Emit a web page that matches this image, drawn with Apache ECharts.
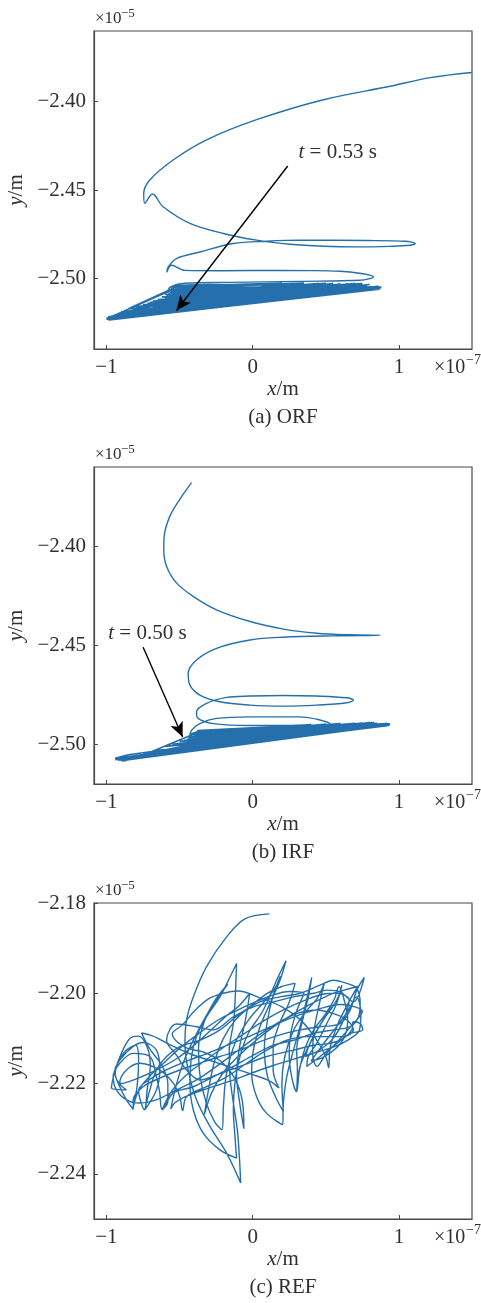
<!DOCTYPE html>
<html>
<head>
<meta charset="utf-8">
<script src="https://cdn.jsdelivr.net/npm/echarts@6/dist/echarts.min.js"></script>
<style>html,body{margin:0;padding:0;background:#fff}#c{width:481px;height:1303px}</style>
</head>
<body>
<div id="c"></div>
<script>
// ---- data (x in units of 1e-7 m, y in units of 1e-5 m) ----
const xTicks = [-1, 0, 1];
const orfYTicks = [-2.40, -2.45, -2.50];
const irfYTicks = [-2.40, -2.45, -2.50];
const refYTicks = [-2.18, -2.20, -2.22, -2.24];

// ORF: spiral part of the trajectory
const orfPath = [
[1.50,-2.3835],[1.214,-2.3864],[0.940,-2.3913],[0.484,-2.3989],[0.027,-2.4102],[-0.315,-2.4216],[-0.544,-2.4330],[-0.703,-2.4443],[-0.745,-2.4519],[-0.738,-2.4576],[-0.685,-2.4523],[-0.612,-2.4595],[-0.429,-2.4689],[-0.201,-2.4746],[0.027,-2.4784],[0.255,-2.4807],[0.484,-2.4818],[0.712,-2.4822],[0.940,-2.4819],[1.077,-2.4813],[1.112,-2.4803],[1.043,-2.4790],[0.781,-2.4786],[0.324,-2.4784],[0.096,-2.4790],[-0.133,-2.4803],[-0.361,-2.4851],[-0.521,-2.4888],[-0.578,-2.4936],[-0.587,-2.4966],[-0.555,-2.4926],[-0.464,-2.4955],[-0.224,-2.4957],[0.187,-2.4955],[0.598,-2.4960],[0.826,-2.4992],[0.735,-2.5011],[0.324,-2.5017],[-0.155,-2.5023],[-0.464,-2.5028],[-0.566,-2.5051],[-0.580,-2.5080],[-0.532,-2.5045],
[-0.50,-2.5040],[-0.30,-2.5035],[0.10,-2.5038],[0.50,-2.5045],[0.65,-2.5050],[0.40,-2.5060],[-0.20,-2.5058],[-0.52,-2.5062],[-0.585,-2.5100],[-0.55,-2.5070]
];
// ORF: dense settled band
const orfBand = [
[-0.55,-2.5070],[-0.55,-2.5060],[0.86,-2.5048],[-0.99,-2.5228],[0.88,-2.5055],[-0.60,-2.5110],[0.70,-2.5030],[-0.97,-2.5215],[0.87,-2.5058],[-0.56,-2.5080],[0.50,-2.5028],[-1.00,-2.5232],[0.85,-2.5052],[-0.80,-2.5160],[0.80,-2.5035],[-0.95,-2.5225],[0.88,-2.5050],[-0.54,-2.5050],[0.35,-2.5027],[-0.90,-2.5200],[0.86,-2.5060],[-0.70,-2.5135],[0.65,-2.5032],[-0.98,-2.5236],[0.84,-2.5062],[-0.57,-2.5095],[0.75,-2.5030],[-0.93,-2.5210],[0.88,-2.5053],[-0.65,-2.5120],[0.55,-2.5030],[-1.00,-2.5225],[0.87,-2.5061],[-0.53,-2.5045],[0.20,-2.5027],[-0.85,-2.5185],[0.86,-2.5045],[-0.96,-2.5230],[0.80,-2.5062],[-0.58,-2.5070],[0.60,-2.5035],[-0.75,-2.5150],[0.88,-2.5056],[-0.99,-2.5218],[0.83,-2.5060],[-0.56,-2.5085],[0.45,-2.5030],[-0.92,-2.5222],[0.87,-2.5052],[-0.62,-2.5105],[0.72,-2.5038],[-0.97,-2.5233],[0.85,-2.5063],[-0.88,-2.5195],[0.78,-2.5040],[-0.55,-2.5065],
[-0.99,-2.5226],[0.60,-2.5040],[-0.68,-2.5128],[0.88,-2.5054],[-0.94,-2.5208],[0.40,-2.5035],[-0.59,-2.5100],[0.86,-2.5058],[-1.00,-2.5230],[0.70,-2.5045],[-0.82,-2.5170],[0.84,-2.5050],[-0.56,-2.5055],[0.25,-2.5030],[-0.97,-2.5222],[0.87,-2.5057],[-0.72,-2.5142],[0.66,-2.5040],[-0.95,-2.5218],[0.82,-2.5048],[-0.60,-2.5090],[0.88,-2.5058],[-0.99,-2.5234],[0.76,-2.5055],[-0.54,-2.5055],
[-0.85,-2.5172],[0.86,-2.5050],[-0.82,-2.5215],[0.70,-2.5045],[-0.78,-2.5160],[0.88,-2.5057],[-0.88,-2.5225],[0.60,-2.5033],[-0.75,-2.5205],[0.85,-2.5058],[-0.90,-2.5190],[0.78,-2.5048],[-0.70,-2.5195],[0.88,-2.5056],[-0.95,-2.5212],[0.50,-2.5038],[-0.65,-2.5185],[0.86,-2.5060]
];

// IRF: spiral part
const irfPath = [
[-0.418,-2.3679],[-0.498,-2.3763],[-0.566,-2.3848],[-0.605,-2.3949],[-0.608,-2.4017],[-0.589,-2.4101],[-0.521,-2.4185],[-0.407,-2.4253],[-0.247,-2.4321],[-0.018,-2.4380],[0.210,-2.4418],[0.438,-2.4439],[0.666,-2.4447],[0.872,-2.4449],[0.552,-2.4452],[0.210,-2.4459],[-0.018,-2.4473],[-0.247,-2.4515],[-0.384,-2.4574],[-0.441,-2.4641],[-0.429,-2.4701],[-0.361,-2.4751],[-0.224,-2.4785],[-0.018,-2.4802],[0.210,-2.4807],[0.438,-2.4802],[0.644,-2.4790],[0.689,-2.4777],[0.644,-2.4765],[0.438,-2.4756],[0.210,-2.4753],[-0.018,-2.4756],[-0.178,-2.4763],[-0.315,-2.4793],[-0.384,-2.4836],[-0.373,-2.4869],[-0.270,-2.4895],[-0.018,-2.4905],[0.324,-2.4905],[0.529,-2.4896],[0.324,-2.4861],[-0.018,-2.4861],[-0.247,-2.4869],[-0.361,-2.4895],[-0.418,-2.4929],[-0.43,-2.4962],[-0.40,-2.4978],[-0.25,-2.4975],[-0.10,-2.4962],[-0.18,-2.4938],[-0.36,-2.4935],[-0.425,-2.4955],[-0.38,-2.4980],[-0.20,-2.4985],[0.00,-2.4970],[-0.15,-2.4945],[-0.40,-2.4945]
];
// IRF: dense settled band
const irfBand = [
[-0.40,-2.4945],[-0.40,-2.4940],[0.92,-2.4895],[-0.90,-2.5075],[0.94,-2.4900],[-0.42,-2.4960],[0.70,-2.4893],[-0.93,-2.5072],[0.90,-2.4905],[-0.45,-2.4975],[0.50,-2.4898],[-0.85,-2.5065],[0.93,-2.4896],[-0.38,-2.4930],[0.30,-2.4905],[-0.92,-2.5080],[0.88,-2.4908],[-0.60,-2.5010],[0.80,-2.4890],[-0.94,-2.5075],[0.92,-2.4903],[-0.40,-2.4950],[0.60,-2.4895],[-0.75,-2.5045],[0.94,-2.4898],[-0.36,-2.4935],[0.10,-2.4912],[-0.90,-2.5082],[0.86,-2.4910],[-0.50,-2.4985],[0.75,-2.4892],[-0.93,-2.5070],[0.91,-2.4900],[-0.42,-2.4945],[0.40,-2.4900],[-0.80,-2.5060],[0.93,-2.4905],[-0.38,-2.4955],
[-0.44,-2.4965],[0.85,-2.4893],[-0.91,-2.5078],[0.94,-2.4902],[-0.55,-2.5000],[0.65,-2.4897],[-0.93,-2.5076],[0.90,-2.4900],[-0.38,-2.4940],[0.20,-2.4908],[-0.88,-2.5070],[0.92,-2.4906],[-0.47,-2.4980],[0.83,-2.4890],[-0.94,-2.5078],[0.45,-2.4902],[-0.41,-2.4950],
[-0.75,-2.5055],[0.90,-2.4902],[-0.65,-2.5030],[0.94,-2.4900],[-0.80,-2.5068],[0.70,-2.4895],
[-0.85,-2.5052],[-0.94,-2.5070],[-0.88,-2.5084],[-0.80,-2.5066]
];

// REF: tangled trajectory
const refPath = [
[0.114,-2.1824],[-0.053,-2.1835],[-0.178,-2.1875],[-0.315,-2.1941],[-0.406,-2.2008],[-0.452,-2.2059],[-0.463,-2.2111],[-0.441,-2.2170],[-0.384,-2.2236],[-0.292,-2.2295],[-0.178,-2.2354],[-0.082,-2.2420],
[-0.091,-2.2361],[-0.105,-2.2302],[-0.132,-2.2243],[-0.155,-2.2185],[-0.160,-2.2126],[-0.132,-2.2067],[-0.121,-2.2022],[-0.110,-2.1934],
[-0.155,-2.1964],[-0.224,-2.2008],[-0.315,-2.2052],[-0.384,-2.2096],[-0.418,-2.2140],[-0.429,-2.2199],[-0.406,-2.2258],[-0.338,-2.2310],[-0.224,-2.2347],[-0.110,-2.2365],
[-0.121,-2.2317],[-0.132,-2.2258],[-0.121,-2.2199],[-0.087,-2.2140],[-0.030,-2.2089],[0.073,-2.2037],[0.164,-2.1971],[0.228,-2.1928],
[0.187,-2.1971],[0.119,-2.2022],[0.050,-2.2074],[0.005,-2.2126],[-0.007,-2.2177],[0.027,-2.2229],[0.096,-2.2266],[0.205,-2.2291],
[0.210,-2.2243],[0.233,-2.2185],[0.279,-2.2126],[0.336,-2.2059],[0.404,-2.1965],[0.381,-2.2008],[0.336,-2.2067],[0.301,-2.2126],[0.306,-2.2170],[0.301,-2.2218],
[0.324,-2.2162],[0.393,-2.2111],[0.484,-2.2059],[0.575,-2.2015],[0.610,-2.1982],[0.575,-2.2022],[0.507,-2.2067],[0.438,-2.2111],[0.381,-2.2140],[0.370,-2.2162],
[0.461,-2.2140],[0.575,-2.2111],[0.667,-2.2089],[0.753,-2.2081],[0.735,-2.2067],[0.689,-2.2063],[0.678,-2.2081],[0.621,-2.2100],[0.530,-2.2111],[0.416,-2.2115],[0.279,-2.2126],[0.096,-2.2140],[-0.087,-2.2162],[-0.247,-2.2181],[-0.361,-2.2192],[-0.452,-2.2170],[-0.521,-2.2137],[-0.589,-2.2104],[-0.521,-2.2068],[-0.384,-2.2074],[-0.269,-2.2081],[-0.132,-2.2052],[0.005,-2.2030],[0.142,-2.2019],[0.279,-2.2008],[0.416,-2.2000],[0.507,-2.1993],[0.598,-2.1997],[0.689,-2.2019],[0.763,-2.1965],[0.712,-2.1993],[0.667,-2.2037],[0.598,-2.2067],[0.461,-2.2074],[0.324,-2.2081],[0.187,-2.2092],[0.050,-2.2107],[-0.087,-2.2126],[-0.224,-2.2140],[-0.361,-2.2155],[-0.498,-2.2170],[-0.635,-2.2188],[-0.749,-2.2207],[-0.817,-2.2236],[-0.817,-2.2257],
[-0.863,-2.2236],[-0.909,-2.2207],[-0.943,-2.2173],[-0.909,-2.2148],[-0.817,-2.2118],[-0.749,-2.2109],[-0.658,-2.2126],[-0.635,-2.2170],[-0.658,-2.2214],[-0.737,-2.2258],[-0.703,-2.2214],[-0.658,-2.2170],[-0.589,-2.2140],[-0.498,-2.2118],[-0.361,-2.2104],[-0.224,-2.2081],[-0.087,-2.2045],[0.050,-2.2019],[0.187,-2.2008],[0.324,-2.2000],[0.461,-2.1982],[0.553,-2.1971],[0.644,-2.1978],[0.712,-2.1989],[0.735,-2.2022],[0.724,-2.2052],[0.667,-2.2074],[0.553,-2.2081],[0.416,-2.2089],[0.279,-2.2104],[0.142,-2.2115],[0.005,-2.2137],[-0.132,-2.2162],[-0.269,-2.2185],[-0.406,-2.2207],[-0.543,-2.2221],[-0.619,-2.2258],
[-0.635,-2.2221],[-0.658,-2.2185],[-0.703,-2.2140],[-0.817,-2.2133],[-0.909,-2.2155],[-0.954,-2.2185],[-0.932,-2.2214],[-0.863,-2.2236],[-0.772,-2.2243],[-0.658,-2.2236],[-0.521,-2.2214],[-0.384,-2.2192],[-0.247,-2.2162],[-0.110,-2.2129],[0.027,-2.2096],[0.164,-2.2067],[0.301,-2.2045],[0.438,-2.2037],[0.553,-2.2045],[0.644,-2.2059],[0.689,-2.2081],[0.621,-2.2096],[0.507,-2.2096],[0.370,-2.2096],[0.233,-2.2104],[0.096,-2.2126],[-0.041,-2.2155],[-0.178,-2.2185],[-0.315,-2.2207],[-0.452,-2.2229],[-0.479,-2.2260],
[-0.498,-2.2229],[-0.543,-2.2199],[-0.635,-2.2170],[-0.772,-2.2155],[-0.863,-2.2170],[-0.909,-2.2199],[-0.863,-2.2214],[-0.966,-2.2210],
[-0.93,-2.2160],[-0.87,-2.2128],[-0.80,-2.2115],[-0.78,-2.2150],[-0.79,-2.2205],[-0.82,-2.2258],
[-0.78,-2.2215],[-0.70,-2.2182],[-0.60,-2.2152],[-0.50,-2.2122],[-0.38,-2.2092],[-0.25,-2.2062],[-0.12,-2.2040],[0.00,-2.2022],[0.12,-2.2006],[0.25,-2.1996],[0.35,-2.2000],
[0.30,-2.2040],[0.26,-2.2090],[0.25,-2.2140],[0.27,-2.2190],[0.30,-2.2218],
[0.32,-2.2170],[0.36,-2.2120],[0.42,-2.2080],[0.50,-2.2045],[0.56,-2.2012],[0.59,-2.1985],
[0.63,-2.2020],[0.65,-2.2060],[0.63,-2.2095],[0.57,-2.2122],[0.48,-2.2142],[0.40,-2.2150],
[0.47,-2.2118],[0.56,-2.2080],[0.65,-2.2040],[0.71,-2.2008],[0.74,-2.2045],[0.73,-2.2082],[0.66,-2.2102],[0.56,-2.2118],
[0.42,-2.2132],[0.28,-2.2146],[0.14,-2.2160],[0.00,-2.2176],[-0.15,-2.2194],[-0.30,-2.2210],[-0.44,-2.2226],[-0.53,-2.2242],[-0.56,-2.2256],
[-0.52,-2.2200],[-0.47,-2.2150],[-0.40,-2.2100],[-0.30,-2.2040],[-0.22,-2.2002],[-0.17,-2.1980],
[-0.25,-2.2012],[-0.33,-2.2062],[-0.37,-2.2122],[-0.36,-2.2182],[-0.32,-2.2240],[-0.26,-2.2285],[-0.21,-2.2302],
[-0.20,-2.2250],[-0.18,-2.2180],[-0.12,-2.2110],[-0.03,-2.2060],[0.07,-2.2022],[0.15,-2.1990],[0.19,-2.1962],
[0.14,-2.2005],[0.10,-2.2062],[0.08,-2.2122],[0.10,-2.2182],[0.16,-2.2232],[0.21,-2.2262],
[0.20,-2.2200],[0.22,-2.2140],[0.28,-2.2082],[0.36,-2.2042],[0.44,-2.2012],[0.49,-2.1978],
[0.45,-2.2032],[0.42,-2.2082],[0.41,-2.2132],[0.44,-2.2162],
[0.50,-2.2135],[0.60,-2.2100],[0.68,-2.2070],[0.75,-2.2040],
[0.70,-2.2030],[0.60,-2.2025],[0.45,-2.2035],[0.30,-2.2050],[0.15,-2.2070],[0.00,-2.2092],[-0.15,-2.2112],[-0.30,-2.2132],[-0.45,-2.2150],[-0.58,-2.2168],[-0.70,-2.2190],[-0.78,-2.2215],[-0.74,-2.2258],
[-0.72,-2.2210],[-0.70,-2.2160],[-0.72,-2.2120],[-0.78,-2.2095],[-0.84,-2.2100],[-0.90,-2.2135],[-0.94,-2.2178],
[-0.90,-2.2200],[-0.80,-2.2190],[-0.66,-2.2170],[-0.52,-2.2145],[-0.40,-2.2115],[-0.28,-2.2080],[-0.18,-2.2050],[-0.10,-2.2030],
[-0.02,-2.2000],[-0.05,-2.2060],[-0.09,-2.2120],[-0.11,-2.2180],[-0.09,-2.2240],[-0.06,-2.2300],
[-0.07,-2.2240],[-0.12,-2.2190],[-0.22,-2.2150],[-0.34,-2.2130],[-0.46,-2.2120],[-0.55,-2.2090],
[-0.48,-2.2070],[-0.40,-2.2040],[-0.30,-2.2012],[-0.20,-2.2000],
[-0.10,-2.1995],[0.05,-2.2010],[0.20,-2.2030],[0.33,-2.2060],[0.43,-2.2100],[0.50,-2.2140],[0.52,-2.2165],
[0.53,-2.2120],[0.58,-2.2070],[0.64,-2.2030],[0.69,-2.2000],[0.72,-2.1985],
[0.66,-2.1990],[0.55,-2.2000],[0.42,-2.2020],[0.28,-2.2045],[0.14,-2.2075],[0.02,-2.2105],[-0.10,-2.2140],[-0.20,-2.2175],[-0.28,-2.2220],[-0.33,-2.2268],
[-0.30,-2.2210],[-0.26,-2.2150],[-0.20,-2.2100],[-0.12,-2.2060],[-0.02,-2.2030],[0.10,-2.2000],[0.20,-2.1985],[0.29,-2.1978],
[0.25,-2.2020],[0.18,-2.2070],[0.14,-2.2120],[0.14,-2.2170],[0.18,-2.2210],
[0.12,-2.2195],[0.00,-2.2180],[-0.14,-2.2165],[-0.28,-2.2150],[-0.42,-2.2135],[-0.56,-2.2115],[-0.68,-2.2095],[-0.76,-2.2088],
[-0.70,-2.2125],[-0.62,-2.2160],[-0.58,-2.2200],[-0.58,-2.2240],[-0.62,-2.2258],
[-0.55,-2.2215],[-0.45,-2.2180],[-0.33,-2.2150],[-0.20,-2.2120],[-0.06,-2.2090],[0.08,-2.2060],[0.22,-2.2035],[0.36,-2.2015],[0.48,-2.2002],[0.58,-2.2000],[0.66,-2.2015],
[0.62,-2.2060],[0.55,-2.2100],[0.46,-2.2125],[0.36,-2.2140],
[0.40,-2.2105],[0.48,-2.2060],[0.54,-2.2030]
];

const orfArrow = [[0.24,-2.4364],[-0.521,-2.5182]];
const orfNotePos = [0.31,-2.429];
const irfArrow = [[-0.749,-2.4510],[-0.479,-2.4963]];
const irfNotePos = [-0.991,-2.4439];

// ---- chart ----
const FONT = "'Liberation Serif','Times New Roman',serif";
const TXT = '#303030';
const AX = '#4a4a4a';
const LINE = '#2570ac';
const chart = echarts.init(document.getElementById('c'), null, {renderer:'canvas'});

function minus(s){ return s.replace('-', '\u2212'); }

const panels = [
  {top:31, height:318, ymin:-2.54, ymax:-2.36, yt:orfYTicks, path:orfPath, band:orfBand, arrow:orfArrow, note:orfNotePos, noteText:' = 0.53 s', cap:'(a) ORF'},
  {top:467, height:317, ymin:-2.52, ymax:-2.36, yt:irfYTicks, path:irfPath, band:irfBand, arrow:irfArrow, note:irfNotePos, noteText:' = 0.50 s', cap:'(b) IRF'},
  {top:903, height:316, ymin:-2.25, ymax:-2.18, yt:refYTicks, path:refPath, band:null, arrow:null, cap:'(c) REF'}
];

const grid = [], xAxis = [], yAxis = [], series = [], graphic = [];
panels.forEach((p, i) => {
  grid.push({left:94, top:p.top, width:378, height:p.height, show:true, borderColor:AX, borderWidth:1.2,
    backgroundColor:'transparent', containLabel:false, outerBoundsMode:'none'});
  xAxis.push({type:'value', gridIndex:i, min:-1.085, max:1.5,
    axisLine:{show:true, onZero:false, lineStyle:{color:AX, width:1.2}},
    axisTick:{show:true, inside:true, length:4, customValues:xTicks, lineStyle:{color:AX, width:1}},
    axisLabel:{show:true, customValues:xTicks, margin:8, fontFamily:FONT, fontSize:21, color:TXT,
      formatter:v => minus(String(Math.round(v)))},
    splitLine:{show:false},
    name:'{i|x}/m', nameLocation:'middle', nameGap:30,
    nameTextStyle:{fontFamily:FONT, fontSize:21, color:TXT,
      rich:{i:{fontFamily:FONT, fontSize:21, fontStyle:'italic', color:TXT}}}
  });
  yAxis.push({type:'value', gridIndex:i, min:p.ymin, max:p.ymax,
    axisLine:{show:true, onZero:false, lineStyle:{color:AX, width:1.2}},
    axisTick:{show:true, inside:true, length:4, customValues:p.yt, lineStyle:{color:AX, width:1}},
    axisLabel:{show:true, customValues:p.yt, margin:8, fontFamily:FONT, fontSize:21, color:TXT,
      formatter:v => minus(v.toFixed(2))},
    splitLine:{show:false},
    name:'{i|y}/m', nameLocation:'middle', nameGap:62, nameRotate:90,
    nameTextStyle:{fontFamily:FONT, fontSize:21, color:TXT,
      rich:{i:{fontFamily:FONT, fontSize:21, fontStyle:'italic', color:TXT}}}
  });
  const s = {type:'line', xAxisIndex:i, yAxisIndex:i, data:p.path, showSymbol:false, symbol:'none',
    smooth:0.35, clip:true, silent:true, animation:false,
    lineStyle:{color:LINE, width:1.4}, itemStyle:{color:LINE}};
  if (p.arrow) {
    s.markLine = {silent:true, animation:false, symbol:['none','arrow'], symbolSize:[10,15],
      lineStyle:{color:'#000', width:1.4, type:'solid'}, label:{show:false}, emphasis:{disabled:true},
      data:[[{coord:p.arrow[0]},{coord:p.arrow[1]}]]};
    s.markPoint = {silent:true, animation:false, symbol:'circle', symbolSize:1, itemStyle:{color:'rgba(0,0,0,0)'},
      label:{show:true, position:'right', distance:0, color:TXT, fontFamily:FONT, fontSize:21,
        formatter:'{i|t}' + p.noteText,
        rich:{i:{fontFamily:FONT, fontSize:21, fontStyle:'italic', color:TXT}}},
      data:[{coord:p.note, value:0}]};
  }
  if (p.band) {
    series.push({type:'line', xAxisIndex:i, yAxisIndex:i, data:p.band, showSymbol:false, symbol:'none',
      smooth:false, clip:true, silent:true, animation:false, z:2,
      lineStyle:{color:LINE, width:1.6}, itemStyle:{color:LINE}});
  }
  s.z = 3;
  series.push(s);

  // offset (scale) labels and caption
  graphic.push({type:'text', x:95, y:p.top - 12, style:{text:'\u00d710', fontFamily:FONT, fontSize:17, fill:TXT, align:'left', verticalAlign:'middle'}});
  graphic.push({type:'text', x:121, y:p.top - 17, style:{text:'\u22125', fontFamily:FONT, fontSize:13, fill:TXT, align:'left', verticalAlign:'middle'}});
  const axB = p.top + p.height;
  graphic.push({type:'text', x:434, y:axB + 19, style:{text:'\u00d710', fontFamily:FONT, fontSize:20, fill:TXT, align:'left', verticalAlign:'middle'}});
  graphic.push({type:'text', x:466, y:axB + 11, style:{text:'\u22127', fontFamily:FONT, fontSize:14, fill:TXT, align:'left', verticalAlign:'middle'}});
  graphic.push({type:'text', x:283, y:axB + 68, style:{text:p.cap, fontFamily:FONT, fontSize:21, fill:TXT, align:'center', verticalAlign:'middle'}});
});

chart.setOption({animation:false, backgroundColor:'#fff', grid, xAxis, yAxis, series, graphic});
</script>
</body>
</html>
